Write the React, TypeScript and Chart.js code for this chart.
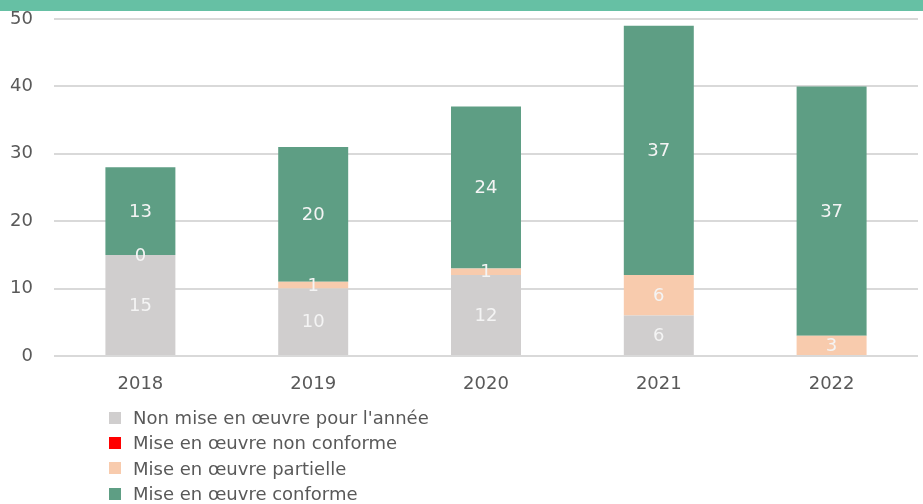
import React, { useEffect, useRef } from "react";
import { Chart, registerables } from "chart.js";

Chart.register(...registerables);

const years = ["2018", "2019", "2020", "2021", "2022"];
const nonMise: (number | null)[] = [15, 10, 12, 6, null];
const nonConforme: (number | null)[] = [null, null, null, null, null];
const partielle: (number | null)[] = [0, 1, 1, 6, 3];
const conforme: (number | null)[] = [13, 20, 24, 37, 37];

const seriesNames = [
  "Non mise en œuvre pour l'année",
  "Mise en œuvre non conforme",
  "Mise en œuvre partielle",
  "Mise en œuvre conforme",
];
const seriesColors = ["#D0CECE", "#FF0000", "#F8CBAD", "#5E9E84"];
const seriesData = [nonMise, nonConforme, partielle, conforme];

const FONT = "'DejaVu Sans', sans-serif";
const TEXT_COLOR = "#595959";

const labelPlugin = {
  id: "barLabels",
  afterDatasetsDraw(chart: any) {
    const ctx = chart.ctx;
    ctx.save();
    ctx.font = `18px ${FONT}`;
    ctx.fillStyle = "#F4F4F4";
    ctx.textAlign = "center";
    ctx.textBaseline = "middle";
    chart.data.datasets.forEach((ds: any, i: number) => {
      const meta = chart.getDatasetMeta(i);
      meta.data.forEach((el: any, j: number) => {
        const v = ds.data[j];
        if (v === null || v === undefined) return;
        const p = el.getProps(["x", "y", "base"], true);
        ctx.fillText(String(v), p.x, (p.y + p.base) / 2 + 1);
      });
    });
    ctx.restore();
  },
};

export default function App() {
  const ref = useRef<HTMLCanvasElement | null>(null);

  useEffect(() => {
    if (!ref.current) return;
    const chart = new Chart(ref.current, {
      type: "bar",
      data: {
        labels: years,
        datasets: seriesNames.map((name, i) => ({
          label: name,
          data: seriesData[i],
          backgroundColor: seriesColors[i],
          borderWidth: 0,
          barPercentage: 0.405,
          categoryPercentage: 1,
        })),
      },
      options: {
        responsive: false,
        animation: false,
        layout: { padding: { left: 0, right: 5, top: 19, bottom: 0 } },
        plugins: {
          legend: { display: false },
          tooltip: { enabled: false },
        },
        scales: {
          x: {
            stacked: true,
            grid: { display: false, drawTicks: false },
            border: { display: false },
            ticks: {
              padding: 18,
              color: TEXT_COLOR,
              font: { family: FONT, size: 18 },
            },
            afterFit: (scale: any) => {
              scale.height = 148;
            },
          },
          y: {
            stacked: true,
            min: 0,
            max: 50,
            ticks: {
              stepSize: 10,
              padding: 21,
              color: TEXT_COLOR,
              font: { family: FONT, size: 18 },
            },
            grid: { color: "#D9D9D9", lineWidth: 2, drawTicks: false },
            border: { display: false },
            afterFit: (scale: any) => {
              scale.width = 54;
              scale.paddingTop = 0;
              scale.paddingBottom = 0;
            },
          },
        },
      },
      plugins: [labelPlugin],
    });
    return () => chart.destroy();
  }, []);

  return (
    <div
      style={{
        position: "fixed",
        left: 0,
        top: 0,
        width: 923,
        height: 504,
        background: "#ffffff",
        overflow: "hidden",
      }}
    >
      <canvas
        ref={ref}
        width={923}
        height={504}
        style={{ position: "absolute", left: 0, top: 0, display: "block" }}
      />
      <div
        style={{
          position: "absolute",
          left: 0,
          top: 0,
          width: 923,
          height: 11,
          background: "#66C0A4",
        }}
      />
      <div
        style={{
          position: "absolute",
          left: 109,
          top: 405,
          fontFamily: FONT,
          fontSize: 18,
          color: TEXT_COLOR,
        }}
      >
        {seriesNames.map((name, i) => (
          <div
            key={name}
            style={{ display: "flex", alignItems: "center", height: 25.3, whiteSpace: "nowrap" }}
          >
            <span
              style={{
                display: "inline-block",
                width: 12,
                height: 12,
                background: seriesColors[i],
                marginRight: 12,
              }}
            />
            {name}
          </div>
        ))}
      </div>
    </div>
  );
}
